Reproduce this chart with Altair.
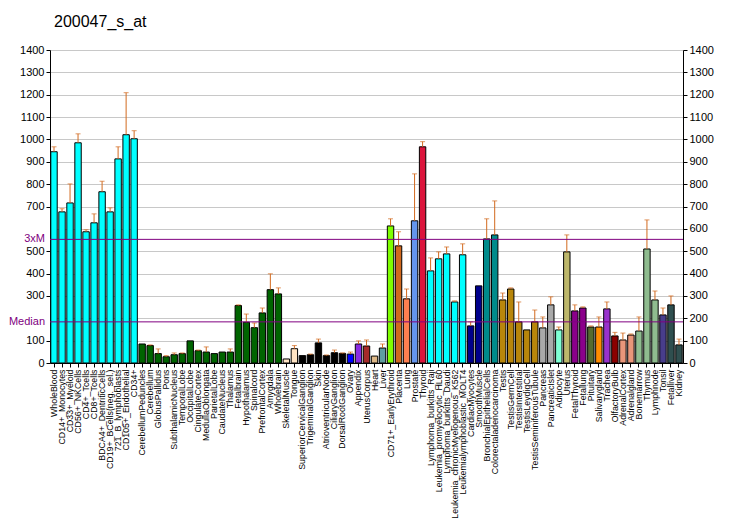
import altair as alt
import pandas as pd

names = [
    "WholeBlood", "CD14+_Monocytes", "CD33+_Myeloid", "CD56+_NKCells", "CD4+_Tcells",
    "CD8+_Tcells", "BDCA4+_DentriticCells", "CD19+_BCells(neg._sel.)", "721_B_lymphoblasts",
    "CD105+_Endothelial", "CD34+", "CerebellumPeduncles", "Cerebellum", "GlobusPallidus",
    "Pons", "SubthalamicNucleus", "TemporalLobe", "OccipitalLobe", "CingulateCortex",
    "MedullaOblongata", "ParietalLobe", "CaudateNucleus", "Thalamus", "Fetalbrain",
    "Hypothalamus", "Spinalcord", "PrefrontalCortex", "Amygdala", "Wholebrain",
    "SkeletalMuscle", "Tongue", "SuperiorCervicalGanglion", "TrigeminalGanglion", "Skin",
    "AtrioventricularNode", "CiliaryGanglion", "DorsalRootGanglion", "Ovary", "Appendix",
    "UterusCorpus", "Heart", "Liver", "CD71+_EarlyErythroid", "Placenta", "Lung",
    "Prostate", "Thyroid", "Lymphoma_burkitts_Raji", "Leukemia_promyelocytic_HL60",
    "Lymphoma_burkitts_Daudi", "Leukemia_chronicMyelogenous_K562",
    "Leukemialymphoblastic_MOLT4", "CardiacMyocytes", "SmoothMuscle",
    "BronchialEpithelialCells", "Colorectaladenocarcinoma", "Testis", "TestisGermCell",
    "TestisInterstitial", "TestisLeydigCell", "TestisSeminiferousTubule", "Pancreas",
    "PancreaticIslet", "Adipocyte", "Uterus", "FetalThyroid", "Fetallung", "Pituitary",
    "Salivarygland", "Trachea", "OlfactoryBulb", "AdrenalCortex", "Adrenalgland",
    "Bonemarrow", "Thymus", "Lymphnode", "Tonsil", "Fetalliver", "Kidney",
]

values = [
    945, 676, 716, 985, 587, 627, 766, 676, 913, 1021, 1003,
    85, 78, 42, 28, 37, 42, 99, 55, 49, 42, 49, 49, 257, 182, 158, 224, 328, 309,
    18, 64,
    33, 37, 90, 33, 46, 43,
    40, 85, 76, 31, 67, 613, 524, 287, 636, 967,
    412, 466, 488, 273, 484,
    166, 345, 555, 573,
    282, 331, 184, 148, 184,
    157, 260, 148, 497, 233, 246, 161, 161, 242, 121, 103, 125, 143, 510, 282, 215, 260, 81,
]

errs = [
    967, 690, 801, 1025, 596, 667, 813, 694, 967, 1209, 1039,
    None, 81, 63, 33, 45, 45, None, 58, 72, None, None, 63, 260, 219, 179, 246, 399, 336,
    None, 78,
    None, 40, 107, 36, 58, 45,
    49, 99, 103, None, 85, 645, 587, 331, 846, 990,
    470, 497, 519, 278, 533,
    184, None, 645, 725,
    313, 336, 273, None, 237,
    206, 296, 161, 573, 260, 251, 166, 206, 273, 137, 134, 130, 206, 640, 322, 246, 300, 107,
]

colors = (
    ["#00FFFF"] * 11 + ["#006400"] * 18 + ["#FFE4C4"] * 2 + ["#000000"] * 6
    + ["#0000FF", "#8A2BE2", "#A52A2A", "#DEB887", "#5F9EA0", "#7FFF00", "#D2691E",
       "#FF7F50", "#6495ED", "#DC143C"]
    + ["#00FFFF"] * 5 + ["#00008B"] * 2 + ["#008B8B"] * 2 + ["#B8860B"] * 5
    + ["#A9A9A9"] * 2
    + ["#7FFFD4", "#BDB76B", "#8B008B", "#8B008B", "#556B2F", "#FF8C00", "#9932CC",
       "#8B0000", "#E9967A", "#E9967A", "#8FBC8F", "#8FBC8F", "#8FBC8F", "#483D8B",
       "#2F4F4F", "#2F4F4F"]
)

title_text = ["200047_s_at"]
median = 184
three_m = 553
ref_labels = ["Median", "3xM"]
ref_values = [median, three_m]

left_ticks = [0, 100, 300, 400, 500, 700, 800, 900, 1000, 1100, 1200, 1300, 1400]
right_ticks = list(range(0, 1401, 100))

df = pd.DataFrame({"name": names, "value": values, "err": errs, "color": colors})
ref_df = pd.DataFrame({"label": ref_labels, "v": ref_values})
title_df = pd.DataFrame({"t": title_text})

FONT = "Liberation Sans"
yscale = alt.Scale(domain=[0, 1400], nice=False, zero=True)
xscale = alt.Scale(paddingInner=0.2, paddingOuter=0.1)

xaxis = alt.Axis(
    title=None, labelAngle=-90, labelFont=FONT, labelFontSize=8.8, labelColor="black",
    tickSize=4, tickColor="black", domainColor="black", labelPadding=2,
    labelOverlap=False, labelLimit=300,
)

base = alt.Chart(df)

bars = base.mark_bar(stroke="black", strokeWidth=1).encode(
    x=alt.X("name:N", sort=names, scale=xscale, axis=xaxis),
    y=alt.Y("value:Q", scale=yscale, axis=alt.Axis(
        orient="left", values=left_ticks, grid=False, title=None, labelFont=FONT,
        labelFontSize=11, labelColor="black", tickColor="black", domainColor="black",
        tickSize=4, format="d")),
    fill=alt.Color("color:N", scale=None),
)

err_rule = base.transform_filter("isValid(datum.err)").mark_rule(
    color="#D2691E", strokeWidth=1
).encode(
    x=alt.X("name:N", sort=names, scale=xscale, axis=xaxis),
    y=alt.Y("value:Q", scale=yscale, axis=alt.Axis(
        orient="right", values=right_ticks, grid=True, gridColor="#C8C8C8",
        title=None, labelFont=FONT, labelFontSize=11, labelColor="black",
        tickColor="black", domainColor="black", tickSize=4, format="d")),
    y2="err:Q",
)

err_cap = base.transform_filter("isValid(datum.err)").mark_tick(
    color="#D2691E", thickness=1, size=5
).encode(
    x=alt.X("name:N", sort=names, scale=xscale, axis=xaxis),
    y=alt.Y("err:Q", scale=yscale, axis=None),
)

ref_rules = alt.Chart(ref_df).mark_rule(color="#800080", strokeWidth=1).encode(
    y=alt.Y("v:Q", scale=yscale, axis=None),
)

ref_text = alt.Chart(ref_df).mark_text(
    align="right", baseline="middle", font=FONT, fontSize=11, color="#800080", dx=-5
).encode(
    x=alt.value(0),
    y=alt.Y("v:Q", scale=yscale, axis=None),
    text="label:N",
)

title_mark = alt.Chart(title_df).mark_text(
    align="left", baseline="middle", font=FONT, fontSize=16, color="black"
).encode(
    x=alt.value(4),
    y=alt.value(-28),
    text="t:N",
)

chart = alt.layer(bars, err_rule, err_cap, ref_rules, ref_text, title_mark).resolve_axis(
    y="independent"
).properties(
    width=633,
    height=313,
    autosize=alt.AutoSizeParams(type="none"),
    padding={"left": 42, "top": 42, "right": 40, "bottom": 157},
).configure_view(stroke=None)

chart.save("out.html", embed_options={"renderer": "svg", "actions": False})
